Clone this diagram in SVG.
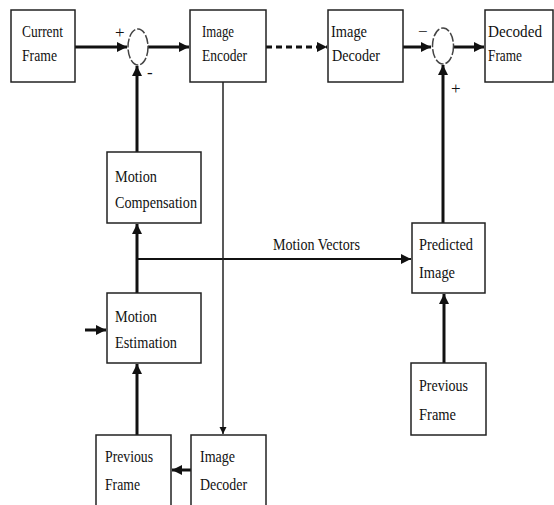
<svg xmlns="http://www.w3.org/2000/svg" width="554" height="505" viewBox="0 0 554 505">
<style>
.box{fill:#fff;stroke:#222;stroke-width:1.5}
.t{font-family:"Liberation Serif",serif;font-size:17px;fill:#111}
.sg{font-family:"Liberation Serif",serif;font-size:17px;fill:#111}
.thick{stroke:#111;stroke-width:3;fill:none}
.thin{stroke:#222;stroke-width:1.5;fill:none}
.mid{stroke:#111;stroke-width:2;fill:none}
.sum{fill:#fff;stroke:#444;stroke-width:1.5;stroke-dasharray:9 2}
</style>
<defs>
<marker id="ah" viewBox="0 0 10 10" refX="10" refY="5" markerWidth="3.4" markerHeight="3.4" orient="auto" markerUnits="strokeWidth">
<path d="M0,0 L10,5 L0,10 z" fill="#111"/>
</marker>
<marker id="ahs" viewBox="0 0 10 10" refX="10" refY="5" markerWidth="5" markerHeight="5" orient="auto" markerUnits="strokeWidth">
<path d="M0,0 L10,5 L0,10 z" fill="#111"/>
</marker>
</defs>
<rect width="554" height="505" fill="#fff"/>
<g id="connectors">
<line class="thick" x1="75" y1="47" x2="127" y2="47" marker-end="url(#ah)"/>
<line class="thick" x1="148" y1="47" x2="189" y2="47" marker-end="url(#ah)"/>
<line class="thick" x1="266" y1="47" x2="327" y2="47" stroke-dasharray="6 4" marker-end="url(#ah)"/>
<line class="thick" x1="403" y1="47" x2="431" y2="47" marker-end="url(#ah)"/>
<line class="thick" x1="454" y1="47" x2="484" y2="47" marker-end="url(#ah)"/>
<line class="thick" x1="137" y1="152" x2="137" y2="66" marker-end="url(#ah)"/>
<line class="thick" x1="443" y1="223" x2="443" y2="65" marker-end="url(#ah)"/>
<line class="thick" x1="137" y1="293" x2="137" y2="224" marker-end="url(#ah)"/>
<line class="mid" x1="137" y1="259" x2="411" y2="259" marker-end="url(#ahs)"/>
<line class="thin" x1="223" y1="82" x2="223" y2="434" marker-end="url(#ahs)"/>
<line class="thick" x1="444" y1="363" x2="444" y2="294" marker-end="url(#ah)"/>
<line class="thick" x1="137" y1="435" x2="137" y2="364" marker-end="url(#ah)"/>
<line class="thick" x1="191" y1="470" x2="172" y2="470" marker-end="url(#ah)"/>
<line class="thick" x1="85" y1="330" x2="106" y2="330" marker-end="url(#ah)"/>
</g>
<g id="sum1">
<ellipse class="sum" cx="138" cy="47" rx="10" ry="18"/>
<text class="sg" x="115" y="38">+</text>
<text class="sg" x="147" y="78">-</text>
</g>
<g id="sum2">
<ellipse class="sum" cx="443" cy="46" rx="10.5" ry="18"/>
<text class="sg" x="418" y="37">−</text>
<text class="sg" x="451" y="94">+</text>
</g>
<g id="current-frame">
<rect class="box" x="11" y="10" width="64" height="72"/>
<text class="t" x="22" y="37" textLength="41" lengthAdjust="spacingAndGlyphs">Current</text>
<text class="t" x="22" y="61" textLength="35" lengthAdjust="spacingAndGlyphs">Frame</text>
</g>
<g id="image-encoder">
<rect class="box" x="190" y="10" width="76" height="72"/>
<text class="t" x="202" y="37" textLength="32" lengthAdjust="spacingAndGlyphs">Image</text>
<text class="t" x="202" y="61" textLength="45" lengthAdjust="spacingAndGlyphs">Encoder</text>
</g>
<g id="image-decoder-top">
<rect class="box" x="328" y="10" width="75" height="72"/>
<text class="t" x="331" y="37" textLength="36" lengthAdjust="spacingAndGlyphs">Image</text>
<text class="t" x="332" y="61" textLength="48" lengthAdjust="spacingAndGlyphs">Decoder</text>
</g>
<g id="decoded-frame">
<rect class="box" x="485" y="10" width="68" height="72"/>
<text class="t" x="488" y="37" textLength="54" lengthAdjust="spacingAndGlyphs">Decoded</text>
<text class="t" x="488" y="61" textLength="34" lengthAdjust="spacingAndGlyphs">Frame</text>
</g>
<g id="motion-compensation">
<rect class="box" x="107" y="152" width="94" height="71"/>
<text class="t" x="115" y="182" textLength="42" lengthAdjust="spacingAndGlyphs">Motion</text>
<text class="t" x="115" y="208" textLength="82" lengthAdjust="spacingAndGlyphs">Compensation</text>
</g>
<g id="motion-estimation">
<rect class="box" x="107" y="293" width="94" height="70"/>
<text class="t" x="115" y="322" textLength="42" lengthAdjust="spacingAndGlyphs">Motion</text>
<text class="t" x="115" y="348" textLength="62" lengthAdjust="spacingAndGlyphs">Estimation</text>
</g>
<g id="motion-vectors-label">
<text class="t" x="273" y="250" textLength="87" lengthAdjust="spacingAndGlyphs">Motion Vectors</text>
</g>
<g id="predicted-image">
<rect class="box" x="412" y="223" width="73" height="70"/>
<text class="t" x="419" y="250" textLength="54" lengthAdjust="spacingAndGlyphs">Predicted</text>
<text class="t" x="419" y="278" textLength="36" lengthAdjust="spacingAndGlyphs">Image</text>
</g>
<g id="previous-frame-right">
<rect class="box" x="411" y="363" width="75" height="72"/>
<text class="t" x="419" y="391" textLength="49" lengthAdjust="spacingAndGlyphs">Previous</text>
<text class="t" x="419" y="420" textLength="37" lengthAdjust="spacingAndGlyphs">Frame</text>
</g>
<g id="previous-frame-bottom">
<rect class="box" x="96" y="435" width="75" height="75"/>
<text class="t" x="105" y="462" textLength="48" lengthAdjust="spacingAndGlyphs">Previous</text>
<text class="t" x="105" y="490" textLength="35" lengthAdjust="spacingAndGlyphs">Frame</text>
</g>
<g id="image-decoder-bottom">
<rect class="box" x="191" y="435" width="75" height="75"/>
<text class="t" x="200" y="462" textLength="35" lengthAdjust="spacingAndGlyphs">Image</text>
<text class="t" x="200" y="490" textLength="47" lengthAdjust="spacingAndGlyphs">Decoder</text>
</g>
</svg>
